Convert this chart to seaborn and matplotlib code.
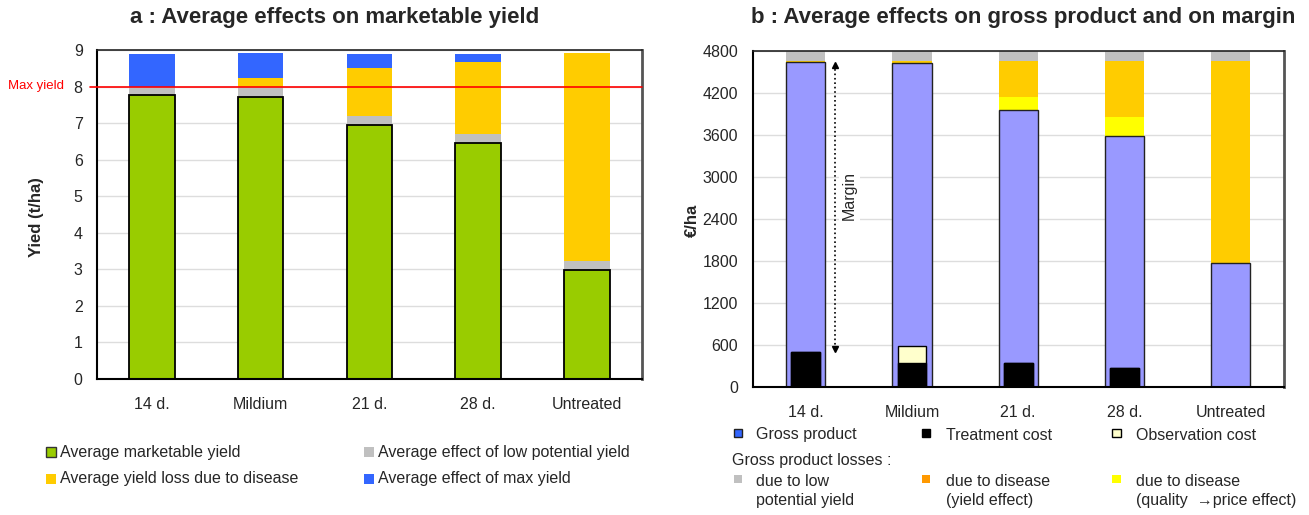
import matplotlib
matplotlib.use("Agg")
import matplotlib.pyplot as plt
from matplotlib.patches import Rectangle
import numpy as np
import seaborn as sns

categories = ["14 d.", "Mildium", "21 d.", "28 d.", "Untreated"]

# Panel a : yield components (t/ha)
marketable_yield = [7.77, 7.71, 6.94, 6.45, 2.98]
low_potential_effect = [0.23, 0.27, 0.26, 0.26, 0.25]
disease_yield_loss = [0.00, 0.25, 1.32, 1.97, 5.69]
max_yield_effect = [0.89, 0.69, 0.37, 0.21, 0.00]
max_yield = 8.0

# Panel b : gross product, losses and costs (EUR/ha)
gross_product = [4640, 4625, 3955, 3585, 1770]
loss_quality_price = [0, 0, 195, 280, 0]
loss_disease_yield = [20, 35, 510, 795, 2890]
loss_low_potential = [140, 140, 140, 140, 140]
treatment_cost = [510, 345, 350, 272, 0]
observation_cost = [0, 250, 0, 0, 0]

sns.set_style("white")
plt.rcParams["font.family"] = ["Liberation Sans", "DejaVu Sans"]

W, H = 1309, 515
fig = plt.figure(figsize=(W / 100, H / 100), dpi=100)


def px_box(x0, y0, x1, y1):
    return [x0 / W, 1 - y1 / H, (x1 - x0) / W, (y1 - y0) / H]


ax_a = fig.add_axes(px_box(97.3, 50, 641.5, 379))
ax_b = fig.add_axes(px_box(752.7, 51, 1283.7, 387.3))

GREEN, GREY, GOLD, BLUE = "#99CC00", "#C0C0C0", "#FFCC00", "#3366FF"
PURPLE, YELLOW, CREAM = "#9999FF", "#FFFF00", "#FFFFCC"


def stack_layer(ax, values, color, width, **kw):
    sns.barplot(x=categories, y=values, order=categories, color=color,
                saturation=1, width=width, ax=ax, zorder=2, **kw)


# ---- panel a: stacked by drawing cumulative totals from the top down
cum_green = np.array(marketable_yield)
cum_grey = cum_green + np.array(low_potential_effect)
cum_gold = cum_grey + np.array(disease_yield_loss)
cum_blue = cum_gold + np.array(max_yield_effect)

bw_a = 0.42
stack_layer(ax_a, cum_blue, BLUE, bw_a, linewidth=0)
stack_layer(ax_a, cum_gold, GOLD, bw_a, linewidth=0)
stack_layer(ax_a, cum_grey, GREY, bw_a, linewidth=0)
stack_layer(ax_a, cum_green, GREEN, bw_a, edgecolor="black", linewidth=1.3)

ax_a.axhline(max_yield, xmin=-0.014, xmax=1, color="red", lw=1.2,
              zorder=6, clip_on=False)

# ---- panel b
cum_purple = np.array(gross_product, dtype=float)
cum_yellow = cum_purple + np.array(loss_quality_price)
cum_orange = cum_yellow + np.array(loss_disease_yield)
cum_top = cum_orange + np.array(loss_low_potential)
cum_cost = np.array(treatment_cost, dtype=float)
cum_obs = cum_cost + np.array(observation_cost)

bw_b, bw_cost = 0.37, 0.27
stack_layer(ax_b, cum_top, GREY, bw_b, linewidth=0)
stack_layer(ax_b, cum_orange, GOLD, bw_b, linewidth=0)
stack_layer(ax_b, cum_yellow, YELLOW, bw_b, linewidth=0)
stack_layer(ax_b, cum_purple, PURPLE, bw_b, edgecolor="#222222", linewidth=1.0)
stack_layer(ax_b, cum_obs, CREAM, bw_cost, edgecolor="black", linewidth=1.0)
stack_layer(ax_b, cum_cost, "black", bw_cost, edgecolor="black", linewidth=1.0)

# margin arrow between gross product and treatment cost of the first strategy
xm = 0.275
ax_b.plot([xm, xm], [treatment_cost[0] + 40, gross_product[0] - 40], ls=":",
          color="black", lw=1.2, zorder=4)
ax_b.plot([xm], [gross_product[0] - 40], marker="^", color="black", ms=5, zorder=4)
ax_b.plot([xm], [treatment_cost[0] + 40], marker="v", color="black", ms=5, zorder=4)
ax_b.text(0.41, 2735, "Margin", rotation=90, ha="center", va="center",
          fontsize=11.5, zorder=5,
          bbox=dict(facecolor="white", edgecolor="none", pad=2))

# ---- shared axis styling
for ax, ymax, ystep in ((ax_a, 9, 1), (ax_b, 4800, 600)):
    ax.set_xlim(-0.5, 4.5)
    ax.set_ylim(0, ymax)
    ax.set_yticks(np.arange(0, ymax + 1, ystep))
    ax.set_xticks(range(len(categories)))
    ax.set_xticklabels(categories)
    ax.set_xticks(np.arange(-0.5, 5.0, 1.0), minor=True)
    ax.set_xlabel("")
    ax.set_ylabel("")
    ax.tick_params(axis="x", which="major", length=0, labelsize=11.5)
    ax.tick_params(axis="x", which="minor", length=5, width=1.2,
                   direction="out", color="black")
    ax.tick_params(axis="y", length=4.5, width=1.2, direction="out",
                   color="black", pad=6, labelsize=11.5)
    ax.yaxis.grid(True, color="#DDDDDD", lw=1)
    ax.set_axisbelow(True)
    for side in ("left", "bottom"):
        ax.spines[side].set_color("black")
        ax.spines[side].set_linewidth(1.5)
    ax.spines["top"].set_color("#222222")
    ax.spines["top"].set_linewidth(1.2)
    ax.spines["right"].set_color("#555555")
    ax.spines["right"].set_linewidth(2)

ax_a.tick_params(axis="x", which="major", pad=13)
ax_b.tick_params(axis="x", which="major", pad=12.5)

# ---- titles and axis labels
fig.text(335 / W, 1 - 18 / H, "a : Average effects on marketable yield",
         ha="center", va="center", fontsize=16, fontweight="bold")
fig.text(1023 / W, 1 - 18 / H, "b : Average effects on gross product and on margin",
         ha="center", va="center", fontsize=16, fontweight="bold")
fig.text(36 / W, 1 - 217 / H, "Yied (t/ha)", rotation=90, ha="center",
         va="center", fontsize=12, fontweight="bold")
fig.text(692 / W, 1 - 220 / H, "\u20ac/ha", rotation=90, ha="center",
         va="center", fontsize=12, fontweight="bold")
fig.text(8 / W, 1 - 86 / H, "Max yield", color="red", ha="left",
         va="center", fontsize=9.5)


# ---- legends
def legend_item(x_sq, y_c, size, color, edge, x_txt, label, y_sq=None):
    ys = y_c if y_sq is None else y_sq
    fig.patches.append(Rectangle((x_sq / W, 1 - (ys + size / 2) / H), size / W,
                                 size / H, transform=fig.transFigure,
                                 facecolor=color,
                                 edgecolor=edge if edge else color,
                                 linewidth=1 if edge else 0))
    fig.text(x_txt / W, 1 - y_c / H, label, ha="left", va="center",
             fontsize=11.5, linespacing=1.4)


legend_item(46, 452, 10, GREEN, "#333333", 60, "Average marketable yield")
legend_item(364, 452, 10, GREY, None, 378, "Average effect of low potential yield")
legend_item(46, 479, 10, GOLD, None, 60, "Average yield loss due to disease")
legend_item(364, 479, 10, BLUE, None, 378, "Average effect of max yield")

legend_item(734, 435, 8.5, BLUE, "#222222", 756, "Gross product", y_sq=433)
legend_item(922, 435, 8.5, "black", "black", 946, "Treatment cost", y_sq=433)
legend_item(1112, 435, 8.5, CREAM, "black", 1136, "Observation cost", y_sq=433)
fig.text(732 / W, 1 - 461 / H, "Gross product losses :", ha="left",
         va="center", fontsize=11.5)
legend_item(734, 491, 8.5, GREY, None, 756, "due to low\npotential yield", y_sq=479)
legend_item(922, 491, 8.5, "#FF9900", None, 946, "due to disease\n(yield effect)", y_sq=479)
legend_item(1112, 491, 8.5, YELLOW, None, 1136,
            "due to disease\n(quality  \u2192price effect)", y_sq=479)

fig.savefig("out.png", dpi=100)
